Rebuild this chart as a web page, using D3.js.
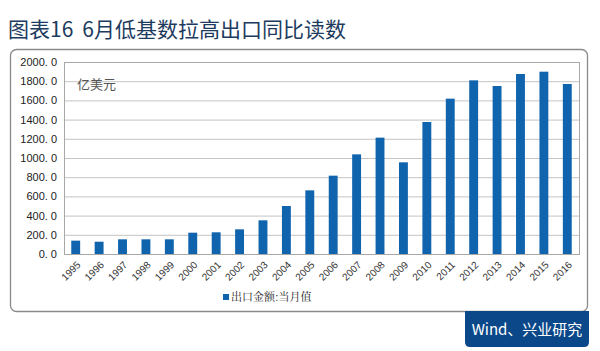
<!DOCTYPE html>
<html>
<head>
<meta charset="utf-8">
<script src="https://cdn.jsdelivr.net/npm/d3@7"></script>
<style>
  body { margin: 0; background: #fff; }
  svg { display: block; font-family: "Noto Sans CJK SC", "Noto Sans", sans-serif; }
</style>
</head>
<body>
<div id="chart"></div>
<script>
const years = ["1995","1996","1997","1998","1999","2000","2001","2002","2003","2004","2005",
               "2006","2007","2008","2009","2010","2011","2012","2013","2014","2015","2016"];
const exportValues = [139, 128, 153, 153, 153, 222, 226, 257, 351, 500, 663,
                      816, 1038, 1212, 955, 1375, 1618, 1809, 1750, 1875, 1899, 1771];
const yTicks = [0, 200, 400, 600, 800, 1000, 1200, 1400, 1600, 1800, 2000];
const seriesName = "出口金额:当月值";

const width = 600, height = 351;
const plot = {left: 64, right: 579, top: 62, bottom: 254};
const barColor = "#1064ae";

const svg = d3.select("#chart").append("svg")
    .attr("width", width)
    .attr("height", height);

// title
const title = svg.append("text")
    .attr("x", 8)
    .attr("y", 37)
    .attr("font-size", 21)
    .attr("fill", "#1d3b5e");
title.append("tspan").text("图表16");
title.append("tspan").attr("dx", 9).text("6月低基数拉高出口同比读数");

// outer rounded frame
svg.append("rect")
    .attr("x", 10.5).attr("y", 49.5)
    .attr("width", 577).attr("height", 262)
    .attr("rx", 6)
    .attr("fill", "#fff")
    .attr("stroke", "#8a8a8a")
    .attr("stroke-width", 1.3);

// source box
svg.append("path")
    .attr("d", "M465,311 H589 V342 Q589,347 584,347 H470 Q465,347 465,342 Z")
    .attr("fill", "#0b4889");
svg.append("text")
    .attr("x", 527).attr("y", 335)
    .attr("text-anchor", "middle")
    .attr("font-size", 15)
    .attr("fill", "#fff")
    .text("Wind、兴业研究");

const x = d3.scaleBand()
    .domain(years)
    .range([plot.left, plot.right])
    .paddingInner(0.62)
    .paddingOuter(0.31);

const y = d3.scaleLinear()
    .domain([0, 2000])
    .range([plot.bottom, plot.top]);

// gridlines
svg.append("g")
    .selectAll("line")
    .data(yTicks.slice(1))
    .join("line")
    .attr("x1", plot.left).attr("x2", plot.right)
    .attr("y1", d => y(d) + 0.5).attr("y2", d => y(d) + 0.5)
    .attr("stroke", "#c4c4c4");

// plot border
svg.append("rect")
    .attr("x", plot.left + 0.5).attr("y", plot.top + 0.5)
    .attr("width", plot.right - plot.left).attr("height", plot.bottom - plot.top)
    .attr("fill", "none")
    .attr("stroke", "#a8a8a8");

// y axis
const yAxis = svg.append("g")
    .attr("transform", "translate(" + plot.left + ",0)")
    .call(d3.axisLeft(y).tickValues(yTicks).tickSize(0).tickPadding(7)
      .tickFormat(d => d3.format(".1f")(d).replace(".", ". ")));
yAxis.select(".domain").remove();
yAxis.selectAll("text")
    .attr("font-size", 11)
    .attr("fill", "#222")
    .style("font-family", "'Liberation Sans', 'Noto Sans', sans-serif");

// bars
svg.append("g")
    .selectAll("rect")
    .data(years)
    .join("rect")
    .attr("x", d => x(d))
    .attr("width", x.bandwidth())
    .attr("y", (d, i) => y(exportValues[i]))
    .attr("height", (d, i) => y(0) - y(exportValues[i]))
    .attr("fill", barColor);

// x axis
const xAxis = svg.append("g")
    .attr("transform", "translate(0," + plot.bottom + ")")
    .call(d3.axisBottom(x).tickSize(0).tickPadding(0));
xAxis.select(".domain")
    .attr("stroke", "#a8a8a8");
xAxis.selectAll("text")
    .attr("font-size", 10)
    .attr("fill", "#333")
    .attr("text-anchor", "end")
    .attr("y", 0)
    .attr("dy", "0.35em")
    .attr("transform", "translate(3,9) rotate(-45)")
    .style("font-family", "'Liberation Sans', 'Noto Sans', sans-serif");

// unit label
svg.append("text")
    .attr("x", 77).attr("y", 89)
    .attr("font-size", 13)
    .attr("fill", "#555")
    .text("亿美元");

// legend
svg.append("rect")
    .attr("x", 223).attr("y", 294)
    .attr("width", 6).attr("height", 6)
    .attr("fill", barColor);
svg.append("text")
    .attr("x", 231).attr("y", 301)
    .attr("font-size", 11)
    .attr("fill", "#222")
    .style("font-family", "'Noto Serif CJK SC', 'Noto Sans CJK SC', serif")
    .text(seriesName);
</script>
</body>
</html>
